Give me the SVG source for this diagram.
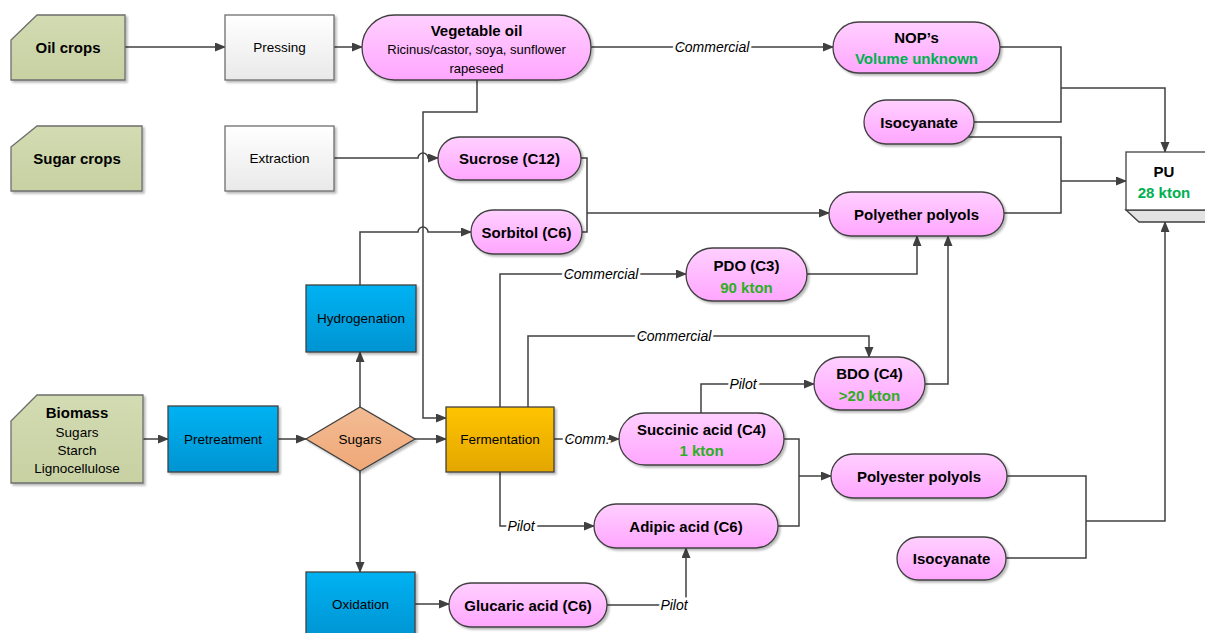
<svg xmlns="http://www.w3.org/2000/svg" width="1205" height="633" viewBox="0 0 1205 633">
  <defs>
    <linearGradient id="gPink" x1="0" y1="0" x2="0" y2="1">
      <stop offset="0" stop-color="#FFD0FF"/>
      <stop offset="1" stop-color="#FFA6FF"/>
    </linearGradient>
    <linearGradient id="gKhaki" x1="0" y1="0" x2="0" y2="1">
      <stop offset="0" stop-color="#D3DBB2"/>
      <stop offset="1" stop-color="#C7D1A2"/>
    </linearGradient>
    <linearGradient id="gGray" x1="0" y1="0" x2="0" y2="1">
      <stop offset="0" stop-color="#FFFFFF"/>
      <stop offset="1" stop-color="#E9E9E9"/>
    </linearGradient>
    <linearGradient id="gBlue" x1="0" y1="0" x2="0" y2="1">
      <stop offset="0" stop-color="#00B2F2"/>
      <stop offset="1" stop-color="#0094D2"/>
    </linearGradient>
    <linearGradient id="gGold" x1="0" y1="0" x2="0" y2="1">
      <stop offset="0" stop-color="#FFC400"/>
      <stop offset="1" stop-color="#E3A600"/>
    </linearGradient>
    <linearGradient id="gPeach" x1="0" y1="0" x2="0" y2="1">
      <stop offset="0" stop-color="#F3BC94"/>
      <stop offset="1" stop-color="#EFA877"/>
    </linearGradient>
    <filter id="shadow" x="-10%" y="-10%" width="130%" height="140%">
      <feDropShadow dx="2" dy="2" stdDeviation="1.2" flood-color="#000" flood-opacity="0.28"/>
    </filter>
    <marker id="arrow" markerUnits="userSpaceOnUse" markerWidth="11" markerHeight="10" refX="10" refY="4.5" orient="auto">
      <path d="M0,0 L11,4.5 L0,9 z" fill="#404040"/>
    </marker>
  </defs>
  <style>
    .node { stroke: #404040; stroke-width: 1.3; filter: url(#shadow); }
    .pill { fill: url(#gPink); }
    .khaki { fill: url(#gKhaki); stroke: #6E6E6E; }
    .gray { fill: url(#gGray); stroke: #6E6E6E; }
    .blue { fill: url(#gBlue); }
    .gold { fill: url(#gGold); }
    .peach { fill: url(#gPeach); }
    text { font-family: "Liberation Sans", Arial, sans-serif; fill: #000; text-anchor: middle; dominant-baseline: central; }
    .b { font-weight: bold; font-size: 15px; }
    .b15 { font-weight: bold; font-size: 15px; }
    .r { font-size: 13.5px; }
    .r12 { font-size: 13px; }
    .g1 { fill: #00B050; }
    .g2 { fill: #2DAE1E; }
    .lbl { font-style: italic; font-size: 14px; stroke: #FFFFFF; stroke-width: 5; paint-order: stroke; }
    .conn path { fill: none; stroke: #404040; stroke-width: 1.5; }
    .conn path.a { marker-end: url(#arrow); }
  </style>

  <rect width="1205" height="633" fill="#FFFFFF"/>

  <!-- connectors -->
  <g id="connectors" class="conn">
    <path class="a" d="M125,47 H225"/>
    <path class="a" d="M334,47 H362"/>
    <path class="a" d="M591,47 H833"/>
    <!-- NOP's + isocyanate to PU -->
    <path d="M1000,47 H1061 V122 H974"/>
    <path class="a" d="M1061,88 H1165 V152"/>
    <!-- isocyanate + polyether polyols to PU -->
    <path d="M968,137 H1061 V213 H1004"/>
    <path class="a" d="M1061,181 H1126"/>
    <!-- vegetable oil down to fermentation -->
    <path class="a" d="M477,80 V112 H423 V418 H446"/>
    <!-- extraction to sucrose, hopping over vertical -->
    <path class="a" d="M334,158 H418 A5,5 0 0 1 428,158 H438"/>
    <!-- hydrogenation to sorbitol -->
    <path class="a" d="M360,285 V232 H418 A5,5 0 0 1 428,232 H471"/>
    <!-- sucrose + sorbitol to polyether -->
    <path d="M581,158 H587 V232 H582"/>
    <path class="a" d="M587,213 H829"/>
    <!-- biomass chain -->
    <path class="a" d="M143,439 H168"/>
    <path class="a" d="M278,439 H306"/>
    <path class="a" d="M415,439 H446"/>
    <path class="a" d="M360,407 V352"/>
    <path class="a" d="M360,471 V572"/>
    <path class="a" d="M415,604 H449"/>
    <!-- fermentation outputs -->
    <path class="a" d="M554,439 H619"/>
    <path class="a" d="M500,407 V274 H686"/>
    <path class="a" d="M528,407 V336 H869 V357"/>
    <path class="a" d="M500,472 V526 H594"/>
    <!-- succinic to BDO -->
    <path class="a" d="M701,413 V384 H814"/>
    <!-- PDO, BDO to polyether -->
    <path class="a" d="M807,274 H917 V236"/>
    <path class="a" d="M925,384 H948 V236"/>
    <!-- glucaric to adipic -->
    <path class="a" d="M607,605 H686 V548"/>
    <!-- succinic + adipic to polyester -->
    <path d="M784,439 H799 V526 H778"/>
    <path class="a" d="M799,476 H831"/>
    <!-- polyester + isocyanate to PU -->
    <path d="M1007,476 H1086 V558 H1006"/>
    <path class="a" d="M1086,521 H1165 V222"/>
    <!-- connector labels -->
    <text class="lbl" x="712" y="47">Commercial</text>
    <text class="lbl" x="601" y="274">Commercial</text>
    <text class="lbl" x="674" y="336">Commercial</text>
    <text class="lbl" x="743" y="384">Pilot</text>
    <text class="lbl" x="587" y="439">Comm.</text>
    <text class="lbl" x="521" y="526">Pilot</text>
    <text class="lbl" x="674" y="605">Pilot</text>
  </g>

  <!-- feedstocks -->
  <g id="oil-crops">
    <polygon class="node khaki" points="11,40 37,15 125,15 125,80 11,80"/>
    <text class="b15" x="68" y="47">Oil crops</text>
  </g>
  <g id="sugar-crops">
    <polygon class="node khaki" points="11,147 37,126 142,126 142,191 11,191"/>
    <text class="b15" x="77" y="158">Sugar crops</text>
  </g>
  <g id="biomass">
    <polygon class="node khaki" points="11,421 37,395 143,395 143,483 11,483"/>
    <text class="b15" x="77" y="412">Biomass</text>
    <text class="r" x="77" y="432">Sugars</text>
    <text class="r" x="77" y="450">Starch</text>
    <text class="r" x="77" y="468">Lignocellulose</text>
  </g>

  <!-- processes -->
  <g id="pressing">
    <rect class="node gray" x="225" y="15" width="109" height="65"/>
    <text class="r" x="279.5" y="47">Pressing</text>
  </g>
  <g id="extraction">
    <rect class="node gray" x="225" y="126" width="109" height="65"/>
    <text class="r" x="279.5" y="158">Extraction</text>
  </g>
  <g id="pretreatment">
    <rect class="node blue" x="168" y="406" width="110" height="66"/>
    <text class="r" x="223" y="439">Pretreatment</text>
  </g>
  <g id="hydrogenation">
    <rect class="node blue" x="306" y="285" width="110" height="67"/>
    <text class="r" x="361" y="318">Hydrogenation</text>
  </g>
  <g id="oxidation">
    <rect class="node blue" x="306" y="572" width="109" height="66"/>
    <text class="r" x="360.5" y="604">Oxidation</text>
  </g>
  <g id="fermentation">
    <rect class="node gold" x="446" y="407" width="108" height="65"/>
    <text class="r" x="500" y="439">Fermentation</text>
  </g>
  <g id="sugars">
    <polygon class="node peach" points="306,439 360,407 415,439 360,471"/>
    <text class="r" x="360" y="439">Sugars</text>
  </g>

  <!-- products -->
  <g id="vegetable-oil">
    <rect class="node pill" x="362" y="15" width="229" height="65" rx="32.5"/>
    <text class="b" x="476.5" y="30">Vegetable oil</text>
    <text class="r12" x="476.5" y="49">Ricinus/castor, soya, sunflower</text>
    <text class="r12" x="476.5" y="68">rapeseed</text>
  </g>
  <g id="nops">
    <rect class="node pill" x="833" y="22" width="167" height="51" rx="25.5"/>
    <text class="b" x="916.5" y="37">NOP’s</text>
    <text class="b g1" x="916.5" y="58">Volume unknown</text>
  </g>
  <g id="isocyanate-1">
    <rect class="node pill" x="864" y="100" width="110" height="44" rx="22"/>
    <text class="b" x="919" y="122">Isocyanate</text>
  </g>
  <g id="sucrose">
    <rect class="node pill" x="438" y="137" width="143" height="43" rx="21.5"/>
    <text class="b" x="509.5" y="158.5">Sucrose (C12)</text>
  </g>
  <g id="sorbitol">
    <rect class="node pill" x="471" y="210" width="111" height="44" rx="22"/>
    <text class="b" x="526.5" y="232">Sorbitol (C6)</text>
  </g>
  <g id="polyether-polyols">
    <rect class="node pill" x="829" y="192" width="175" height="44" rx="22"/>
    <text class="b" x="916.5" y="214">Polyether polyols</text>
  </g>
  <g id="pdo">
    <rect class="node pill" x="686" y="248" width="121" height="53" rx="26.5"/>
    <text class="b" x="746.5" y="265">PDO (C3)</text>
    <text class="b g2" x="746.5" y="287">90 kton</text>
  </g>
  <g id="bdo">
    <rect class="node pill" x="814" y="357" width="111" height="53" rx="26.5"/>
    <text class="b" x="869.5" y="373">BDO (C4)</text>
    <text class="b g2" x="869.5" y="395">&gt;20 kton</text>
  </g>
  <g id="succinic-acid">
    <rect class="node pill" x="619" y="413" width="165" height="52" rx="26"/>
    <text class="b" x="701.5" y="429">Succinic acid (C4)</text>
    <text class="b g2" x="701.5" y="450">1 kton</text>
  </g>
  <g id="adipic-acid">
    <rect class="node pill" x="594" y="504" width="184" height="44" rx="22"/>
    <text class="b" x="686" y="526">Adipic acid (C6)</text>
  </g>
  <g id="glucaric-acid">
    <rect class="node pill" x="449" y="583" width="158" height="44" rx="22"/>
    <text class="b" x="528" y="605">Glucaric acid (C6)</text>
  </g>
  <g id="polyester-polyols">
    <rect class="node pill" x="831" y="454" width="176" height="44" rx="22"/>
    <text class="b" x="919" y="476">Polyester polyols</text>
  </g>
  <g id="isocyanate-2">
    <rect class="node pill" x="897" y="537" width="109" height="43" rx="21.5"/>
    <text class="b" x="951.5" y="558.5">Isocyanate</text>
  </g>
  <g id="pu">
    <polygon points="1126,210 1139,222 1212,222 1212,210" fill="#E3E3E3" stroke="#404040" stroke-width="1.3"/>
    <rect x="1126" y="152" width="86" height="58" fill="#FFFFFF" stroke="#404040" stroke-width="1.3"/>
    <text class="b" x="1164" y="171">PU</text>
    <text class="b g1" x="1164" y="192">28 kton</text>
  </g>
</svg>
